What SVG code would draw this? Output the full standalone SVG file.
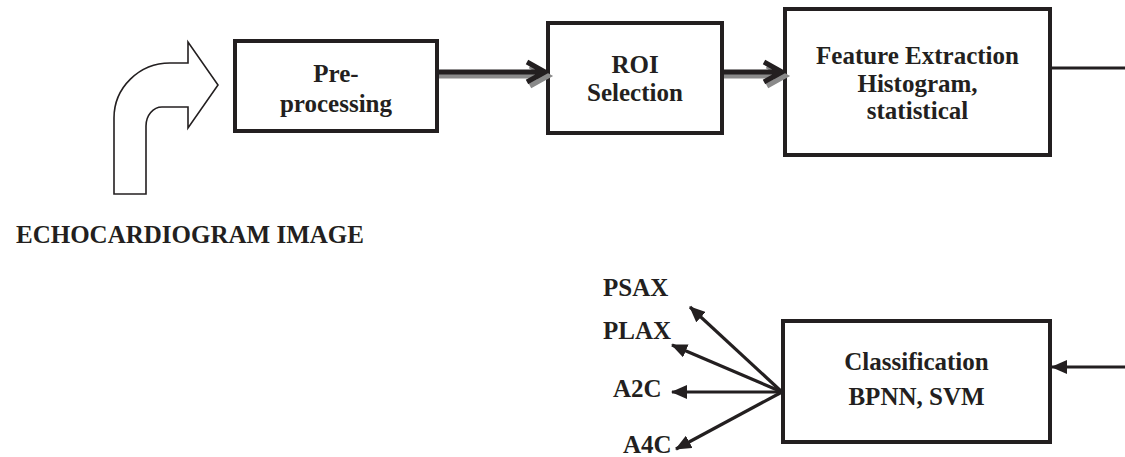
<svg xmlns="http://www.w3.org/2000/svg" width="1125" height="457" viewBox="0 0 1125 457">
  <style>
    .box { fill: #ffffff; stroke: #231f20; stroke-width: 4; }
    .lbl { font-family: "Liberation Serif", "Times New Roman", serif; font-weight: bold; font-size: 25px; fill: #231f20; text-anchor: middle; }
    .lbl-start { font-family: "Liberation Serif", "Times New Roman", serif; font-weight: bold; font-size: 25px; fill: #231f20; }
    .thick { fill: none; stroke: #231f20; stroke-width: 5; stroke-linejoin: miter; }
    .shadow { fill: none; stroke: #8a8a8a; stroke-width: 5; stroke-linejoin: miter; }
    .thin { fill: none; stroke: #231f20; stroke-width: 3.2; }
  </style>
  <defs>
    <marker id="tri" markerUnits="userSpaceOnUse" markerWidth="16" markerHeight="14" viewBox="0 0 16 14" refX="15" refY="7" orient="auto">
      <path d="M0,0 L16,7 L0,14 Z" fill="#231f20"/>
    </marker>
  </defs>
  <rect width="1125" height="457" fill="#ffffff"/>

  <g id="input-arrow">
    <path d="M114,194 L114,118 A56,55 0 0 1 170,63 L188,63 L188,42 L218,85 L188,128 L188,107 L162,107 A16,19 0 0 0 146,126 L146,194 Z" fill="#ffffff" stroke="#231f20" stroke-width="1.6" stroke-linejoin="miter"/>
  </g>

  <g id="input-label">
    <text class="lbl-start" x="16" y="243">ECHOCARDIOGRAM IMAGE</text>
  </g>

  <g id="preprocessing">
    <rect class="box" x="235" y="41" width="202" height="90"/>
    <text class="lbl" x="336" y="82">Pre-</text>
    <text class="lbl" x="336" y="112">processing</text>
  </g>

  <g id="roi">
    <rect class="box" x="548" y="23" width="174" height="110"/>
    <text class="lbl" x="635" y="73">ROI</text>
    <text class="lbl" x="635" y="101">Selection</text>
  </g>

  <g id="feature">
    <rect class="box" x="785" y="9" width="265" height="146"/>
    <text class="lbl" x="917.5" y="64">Feature Extraction</text>
    <text class="lbl" x="917.5" y="91.5">Histogram,</text>
    <text class="lbl" x="917.5" y="119">statistical</text>
  </g>

  <g id="classification">
    <rect class="box" x="783" y="321" width="267" height="121"/>
    <text class="lbl" x="916.5" y="370">Classification</text>
    <text class="lbl" x="916.5" y="405">BPNN, SVM</text>
  </g>

  <g id="outputs">
    <text class="lbl-start" x="603" y="296">PSAX</text>
    <text class="lbl-start" x="603" y="339">PLAX</text>
    <text class="lbl-start" x="613" y="397">A2C</text>
    <text class="lbl-start" x="623" y="453">A4C</text>
  </g>

  <g id="connectors">
    <path class="shadow" d="M439,76 L547,76 M530,66 L548,76 L530,86"/>
    <path class="thick" d="M437,72 L545,72 M527,62 L545,72 L527,82"/>
    <path class="shadow" d="M724,76 L784,76 M767,66 L785,76 L767,86"/>
    <path class="thick" d="M722,72 L782,72 M764,62 L782,72 L764,82"/>
    <line class="thin" x1="1050" y1="68" x2="1125" y2="68"/>
    <line class="thin" x1="1125" y1="367" x2="1052" y2="367" marker-end="url(#tri)"/>
    <line class="thin" x1="782" y1="392" x2="690" y2="307" marker-end="url(#tri)"/>
    <line class="thin" x1="782" y1="392" x2="672" y2="345" marker-end="url(#tri)"/>
    <line class="thin" x1="782" y1="392" x2="672" y2="392" marker-end="url(#tri)"/>
    <line class="thin" x1="782" y1="392" x2="676" y2="449" marker-end="url(#tri)"/>
  </g>
</svg>
